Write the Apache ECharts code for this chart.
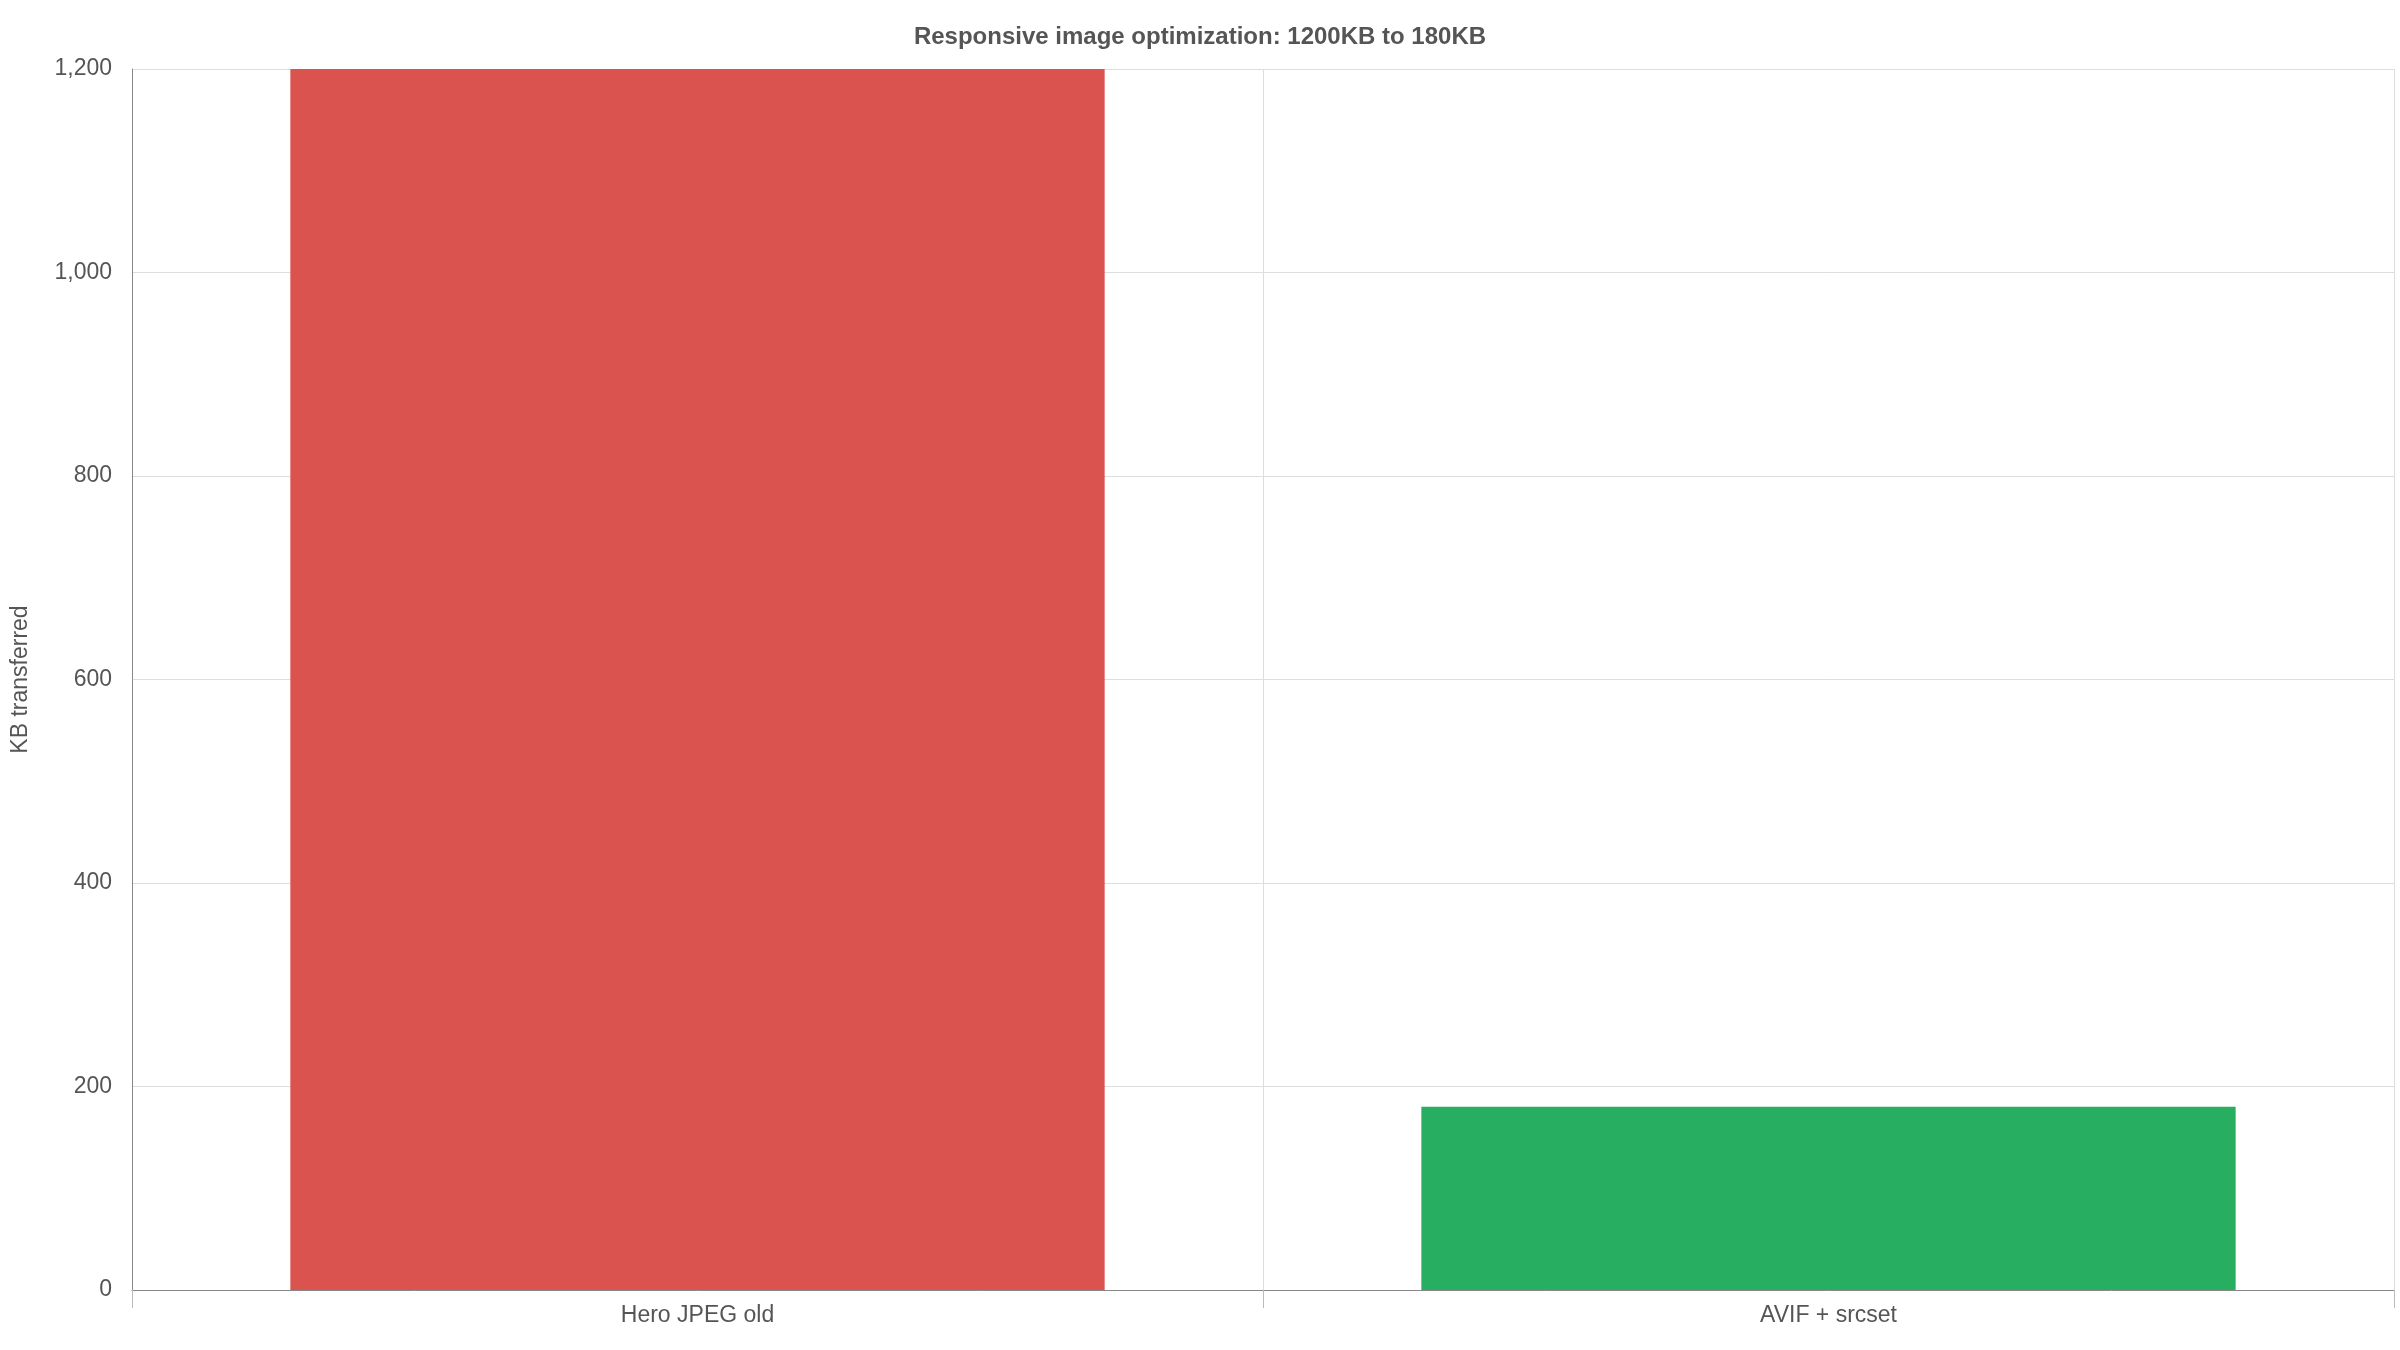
<!DOCTYPE html>
<html>
<head>
<meta charset="utf-8">
<script src="https://cdn.jsdelivr.net/npm/echarts@6/dist/echarts.min.js"></script>
<style>
  html, body { margin: 0; padding: 0; background: #fff; }
  #chart { width: 2400px; height: 1350px; }
</style>
</head>
<body>
<div id="chart"></div>
<script>
const categories = ["Hero JPEG old", "AVIF + srcset"];
const kbValues = [1200, 180];
const barColors = ["#db534e", "#27ae60"];

const chart = echarts.init(document.getElementById("chart"));
chart.setOption({
  animation: false,
  textStyle: { fontFamily: "Liberation Sans, Arial, sans-serif" },
  title: {
    text: "Responsive image optimization: 1200KB to 180KB",
    left: "center",
    top: 20,
    textStyle: { fontSize: 24, fontWeight: "bold", color: "#555" }
  },
  grid: { left: 132, right: 6, top: 69, bottom: 60 },
  xAxis: {
    type: "category",
    data: categories,
    axisLine: { lineStyle: { color: "#888" } },
    axisTick: { show: true, length: 18, lineStyle: { color: "#bbb" } },
    axisLabel: { fontSize: 23, color: "#555", margin: 14 },
    splitLine: { show: true, lineStyle: { color: "#ddd" } }
  },
  yAxis: {
    type: "value",
    min: 0,
    max: 1200,
    interval: 200,
    name: "KB transferred",
    nameLocation: "middle",
    nameGap: 100,
    nameTextStyle: { fontSize: 23, color: "#555" },
    axisLine: { show: true, lineStyle: { color: "#888" } },
    axisLabel: { fontSize: 23, color: "#555", margin: 20 },
    splitLine: { lineStyle: { color: "#ddd" } }
  },
  series: [{
    type: "bar",
    barCategoryGap: "28%",
    data: kbValues.map((v, i) => ({ value: v, itemStyle: { color: barColors[i] } }))
  }]
});
</script>
</body>
</html>
